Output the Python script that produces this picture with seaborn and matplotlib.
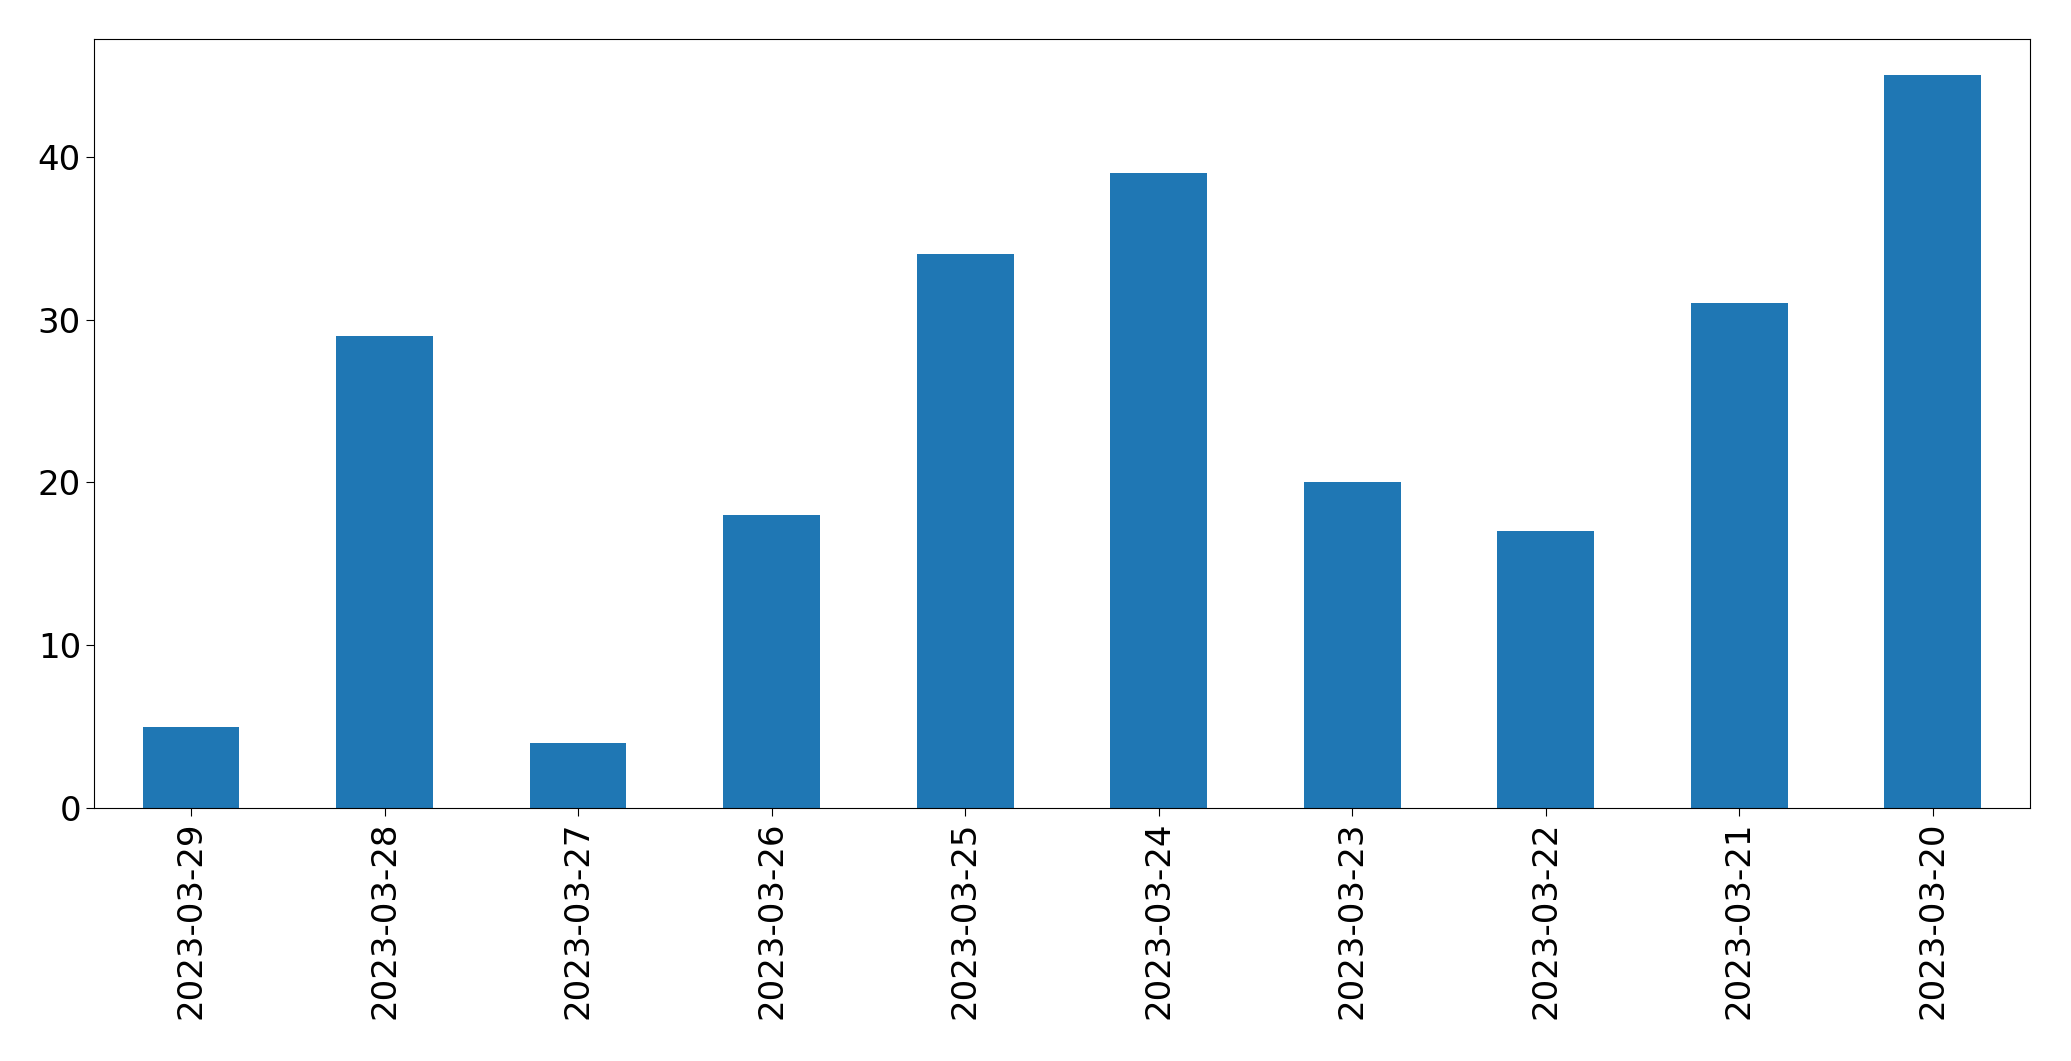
import matplotlib
matplotlib.use("Agg")
import matplotlib.pyplot as plt
import pandas as pd
import seaborn as sns

# ── Data ────────────────────────────────────────────────────────────────────
dates = ["2023-03-29", "2023-03-28", "2023-03-27", "2023-03-26", "2023-03-25",
         "2023-03-24", "2023-03-23", "2023-03-22", "2023-03-21", "2023-03-20"]
counts = [5, 29, 4, 18, 34, 39, 20, 17, 31, 45]

df = pd.DataFrame({"date": dates, "count": counts})

fig, ax = plt.subplots(figsize=(20.71, 10.61), dpi=100)
fig.subplots_adjust(left=0.0455, right=0.980, top=0.9635, bottom=0.2385)

sns.barplot(data=df, x="date", y="count", order=dates, color="#1f77b4",
            saturation=1, width=0.5, linewidth=0, ax=ax)

ax.set_xlabel("")
ax.set_ylabel("")
ax.set_xlim(-0.5, len(dates) - 0.5)
ax.set_ylim(0, max(counts) * 1.05)
ax.tick_params(axis="both", labelsize=24.5, length=6)
ax.tick_params(axis="x", rotation=90)

fig.savefig("out.png", dpi=100)
